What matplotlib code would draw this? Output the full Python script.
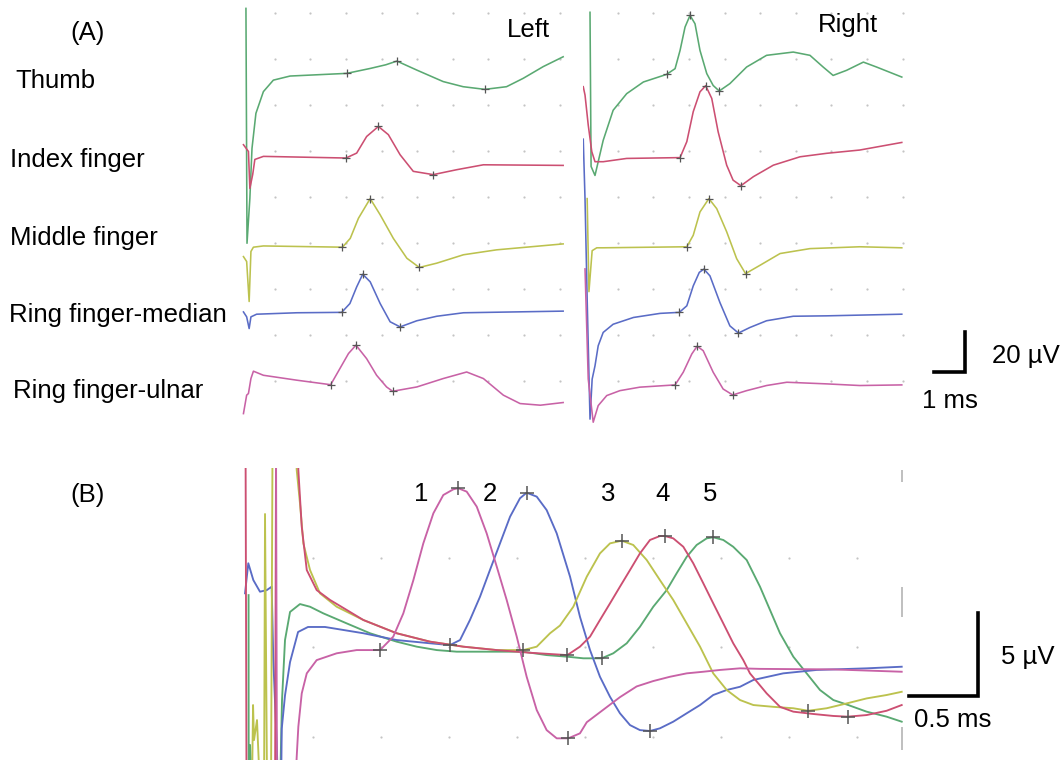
import numpy as np
import matplotlib
matplotlib.use("Agg")
import matplotlib.pyplot as plt

plt.rcParams['font.family'] = ['Liberation Sans', 'DejaVu Sans']

# colours of the recording system
GREEN = '#5aa972'
RED = '#cc4f72'
YELLOW = '#bcc24e'
BLUE = '#5a6cc6'
MAGENTA = '#c862a6'
MARK = '#555555'

# ---- panel A: sensory potentials, time in ms, amplitude in uV ----
fingers = ['Thumb', 'Index finger', 'Middle finger', 'Ring finger-median', 'Ring finger-ulnar']
finger_colors = [GREEN, RED, YELLOW, BLUE, MAGENTA]
baseline_uv = [174, 133, 89.5, 57.5, 22]   # vertical offset of each trace

# left hand
l_thumb_t = [-0.03, 0.0, 0.08, 0.14, 0.25, 0.46, 0.74, 1.21, 2.80, 3.46, 3.90, 4.21, 4.77, 5.51, 6.07, 6.68, 7.29, 7.76, 8.32, 8.88]
l_thumb_uv = [31.7, -82.9, -61.0, -36.6, -19.5, -8.9, -3.3, -1.3, 0.0, 2.4, 4.2, 6.0, 1.6, -4.0, -6.5, -7.8, -6.5, -2.4, 3.3, 8.1]
l_index_t = [-0.10, 0.04, 0.08, 0.16, 0.22, 0.46, 2.78, 3.08, 3.36, 3.69, 3.97, 4.30, 4.67, 5.23, 5.89, 6.64, 8.88]
l_index_uv = [6.2, 2.9, -15.1, -8.3, -1.0, 0.5, -0.3, 2.1, 10.2, 15.1, 11.1, 1.3, -6.8, -8.4, -6.0, -3.6, -3.9]
l_middle_t = [-0.10, -0.01, 0.06, 0.11, 0.18, 0.46, 2.68, 2.90, 3.13, 3.46, 3.74, 4.11, 4.49, 4.84, 5.33, 6.08, 7.01, 8.88]
l_middle_uv = [-4.9, -7.3, -26.8, -2.4, -0.3, 0.3, -0.3, 4.0, 13.8, 23.4, 15.5, 4.0, -5.7, -10.2, -8.1, -4.0, -1.6, 1.3]
l_rmed_t = [-0.10, -0.01, 0.06, 0.11, 0.27, 1.40, 2.66, 2.89, 3.08, 3.25, 3.46, 3.74, 4.02, 4.30, 4.77, 5.33, 6.08, 8.88]
l_rmed_uv = [0.1, -2.3, -8.0, -2.3, -1.0, -0.3, -0.1, 4.2, 12.3, 18.5, 14.8, 4.2, -4.7, -7.2, -4.2, -2.0, -0.3, 0.5]
l_rul_t = [-0.10, -0.01, 0.04, 0.11, 0.18, 0.46, 1.40, 2.35, 2.61, 2.85, 3.06, 3.36, 3.64, 3.92, 4.09, 4.77, 5.51, 6.17, 6.64, 7.20, 7.67, 8.24, 8.88]
l_rul_uv = [-14.0, -5.0, -4.2, 3.1, 6.7, 4.7, 2.3, 0.1, 8.0, 15.3, 19.4, 12.8, 4.7, -1.0, -3.1, -1.0, 3.1, 6.3, 3.1, -5.0, -9.1, -9.9, -8.6]

# onset / peak / trough cursors (left)
l_marks_t = [[2.80, 4.21, 6.68], [2.78, 3.69, 5.23], [2.68, 3.46, 4.84], [2.66, 3.25, 4.30], [2.35, 3.06, 4.09]]
l_marks_uv = [[0.0, 6.0, -7.8], [-0.3, 15.1, -8.4], [-0.3, 23.4, -10.2], [-0.1, 18.5, -7.2], [0.1, 19.4, -3.1]]

# right hand
r_thumb_t = [0.0, 0.03, 0.14, 0.37, 0.65, 1.03, 1.50, 2.15, 2.39, 2.53, 2.67, 2.81, 2.95, 3.09, 3.28, 3.46, 3.63, 3.93, 4.40, 4.96, 5.71, 6.18, 6.55, 6.83, 7.21, 7.68, 8.05, 8.76]
r_thumb_uv = [29.8, -45.4, -49.8, -32.7, -18.0, -9.9, -4.2, -0.5, 2.3, 11.2, 22.6, 28.3, 24.2, 11.2, -0.1, -5.9, -8.6, -5.0, 3.1, 8.8, 10.4, 8.8, 3.1, -1.0, 1.5, 5.5, 3.1, -1.8]
r_index_t = [-0.19, -0.14, -0.05, 0.05, 0.14, 0.37, 1.03, 2.53, 2.72, 2.90, 3.09, 3.25, 3.42, 3.60, 3.84, 4.02, 4.24, 4.59, 5.15, 5.90, 6.65, 7.58, 8.76]
r_index_uv = [34.5, 30.4, 15.8, 2.8, -2.1, -2.1, -0.5, -0.1, 7.7, 22.3, 32.0, 35.0, 28.8, 12.5, -3.8, -11.1, -13.8, -9.4, -3.8, 0.3, 2.0, 3.6, 7.3]
r_middle_t = [-0.08, -0.03, 0.06, 0.19, 0.37, 2.72, 2.90, 3.09, 3.34, 3.56, 3.84, 4.12, 4.37, 4.78, 5.34, 6.18, 7.58, 8.76]
r_middle_uv = [23.4, -22.0, -2.0, -0.6, -0.6, -0.1, 5.5, 16.9, 23.4, 18.5, 7.2, -5.9, -13.2, -9.1, -3.4, -1.0, -0.1, -0.6]
r_rmed_t = [-0.19, -0.14, -0.08, 0.0, 0.06, 0.14, 0.23, 0.37, 0.65, 1.22, 1.97, 2.51, 2.72, 2.90, 3.07, 3.20, 3.37, 3.65, 3.93, 4.17, 4.49, 4.96, 5.71, 6.65, 8.76]
r_rmed_uv = [84.4, 55.1, 6.3, -52.2, -32.7, -26.2, -16.4, -9.9, -5.9, -2.6, -0.6, -0.1, 3.1, 12.8, 19.4, 21.0, 17.7, 4.7, -6.7, -10.2, -7.5, -4.2, -2.0, -1.8, -1.0]
r_rul_t = [-0.14, -0.05, 0.09, 0.23, 0.47, 0.84, 1.40, 2.39, 2.62, 2.86, 3.01, 3.18, 3.46, 3.74, 4.01, 4.40, 4.96, 5.53, 6.65, 7.58, 8.76]
r_rul_uv = [56.6, 2.9, -18.2, -10.1, -5.2, -2.8, -1.1, 0.0, 6.2, 15.1, 18.9, 16.7, 6.2, -2.0, -4.9, -2.8, -0.3, 1.3, 0.5, -0.3, 0.0]

r_marks_t = [[2.15, 2.81, 3.63], [2.53, 3.25, 4.24], [2.72, 3.34, 4.37], [2.51, 3.20, 4.17], [2.39, 3.01, 4.01]]
r_marks_uv = [[-0.5, 28.3, -8.6], [-0.1, 35.0, -13.8], [-0.1, 23.4, -13.2], [-0.1, 21.0, -10.2], [0.0, 18.9, -4.9]]

# ---- panel B: superimposed traces 1-5, time in ms, amplitude in uV ----
b1_t = [0.228, 0.235, 0.368, 0.380, 0.392, 0.417, 0.454, 0.527, 0.674, 0.821,
        0.993, 1.090, 1.164, 1.238, 1.311, 1.385, 1.458, 1.532, 1.568, 1.630,
        1.704, 1.777, 1.851, 1.924, 1.998, 2.071, 2.145, 2.218, 2.292, 2.377,
        2.463, 2.513, 2.635, 2.757, 2.880, 3.002, 3.125, 3.248, 3.370, 3.493,
        3.640, 3.787, 4.326, 4.829]
b1_uv = [11, -8, -8, -6.13, -4.45, -2.59, -1.47, -0.73, -0.35, -0.17,
         -0.17, 0.58, 1.88, 3.74, 5.79, 7.47, 8.49, 8.81, 8.87, 8.68,
         7.84, 6.35, 4.49, 2.63, 0.58, -1.66, -3.52, -4.64, -5.10, -5.10,
         -4.82, -4.2, -3.5, -2.8, -2.2, -1.9, -1.66, -1.47, -1.38, -1.28,
         -1.19, -1.22, -1.25, -1.38]
b2_t = [0.000, 0.024, 0.061, 0.110, 0.160, 0.196, 0.208, 0.233, 0.243, 0.265,
        0.270, 0.294, 0.331, 0.390, 0.463, 0.588, 0.870, 1.115, 1.360, 1.507,
        1.581, 1.654, 1.728, 1.801, 1.875, 1.949, 2.022, 2.071, 2.145, 2.218,
        2.292, 2.390, 2.463, 2.537, 2.610, 2.684, 2.757, 2.831, 2.904, 2.978,
        3.051, 3.149, 3.248, 3.346, 3.443, 3.542, 3.640, 3.738, 3.958, 4.204,
        4.571, 4.829]
b2_uv = [3.00, 4.68, 3.74, 3.09, 3.18, 3.37, -0.73, -5.38, -8, -8,
         -4.56, -2.70, -0.84, 0.84, 1.12, 1.12, 0.77, 0.39, 0.21, 0.11,
         0.39, 1.51, 2.81, 4.30, 5.79, 7.28, 8.31, 8.62, 8.40, 7.65,
         6.35, 3.93, 1.69, -0.17, -1.66, -2.78, -3.70, -4.36, -4.64, -4.69,
         -4.54, -4.17, -3.70, -3.24, -2.68, -2.40, -2.22, -1.84, -1.47, -1.28,
         -1.19, -1.10]
b3_t = [0.051, 0.059, 0.066, 0.088, 0.110, 0.140, 0.147, 0.162, 0.191, 0.202,
        0.375, 0.380, 0.404, 0.429, 0.478, 0.551, 0.674, 0.870, 1.115, 1.360,
        1.605, 1.851, 2.046, 2.145, 2.243, 2.316, 2.414, 2.513, 2.610, 2.684,
        2.770, 2.855, 2.954, 3.051, 3.149, 3.248, 3.346, 3.443, 3.542, 3.640,
        3.738, 3.885, 4.032, 4.142, 4.277, 4.424, 4.571, 4.718, 4.829]
b3_uv = [-8, -3.24, -5.20, -4.08, -8, -8, 7.43, -8, -8, 11,
         11, 9.89, 8.03, 5.79, 4.30, 3.00, 2.25, 1.51, 0.77, 0.30,
         0.02, -0.17, -0.17, 0.02, 0.77, 1.2, 2.25, 3.93, 5.23, 5.79,
         5.94, 5.70, 4.86, 3.74, 2.63, 1.32, 0.02, -1.47, -2.40, -2.96,
         -3.24, -3.34, -3.42, -3.56, -3.42, -3.15, -2.87, -2.68, -2.50]
b4_t = [0.004, 0.011, 0.221, 0.228, 0.390, 0.392, 0.417, 0.454, 0.527, 0.625,
        0.748, 0.870, 1.115, 1.360, 1.605, 1.851, 2.096, 2.370, 2.463, 2.537,
        2.610, 2.684, 2.757, 2.831, 2.904, 2.978, 3.051, 3.088, 3.149, 3.223,
        3.296, 3.370, 3.443, 3.517, 3.590, 3.664, 3.713, 3.836, 3.934, 4.032,
        4.179, 4.326, 4.431, 4.571, 4.718, 4.829]
b4_uv = [11, -8, -8, 11, 11, 9.89, 6.72, 4.30, 3.18, 2.63,
         2.07, 1.51, 0.77, 0.30, 0.02, -0.17, -0.32, -0.45, 0.02, 0.58,
         1.51, 2.44, 3.37, 4.30, 5.23, 5.98, 6.20, 6.20, 6.07, 5.60,
         4.68, 3.56, 2.44, 1.32, 0.21, -0.73, -1.47, -2.59, -3.34, -3.61,
         -3.74, -3.85, -3.89, -3.80, -3.56, -3.24]
b5_t = [0.026, 0.027, 0.037, 0.051, 0.257, 0.272, 0.294, 0.331, 0.404, 0.478,
        0.576, 0.748, 0.919, 1.115, 1.263, 1.410, 1.557, 1.704, 1.851, 2.046,
        2.218, 2.370, 2.488, 2.623, 2.708, 2.807, 2.904, 3.002, 3.101, 3.174,
        3.248, 3.321, 3.395, 3.443, 3.517, 3.590, 3.689, 3.787, 3.934, 4.032,
        4.130, 4.228, 4.326, 4.436, 4.571, 4.718, 4.829]
b5_uv = [2.9, -8, -5.47, -8, -8, -2.96, 0.39, 1.96, 2.40, 2.25,
         1.88, 1.32, 0.77, 0.30, 0.02, -0.17, -0.26, -0.26, -0.26, -0.26,
         -0.45, -0.54, -0.63, -0.63, -0.35, 0.21, 1.13, 2.25, 3.18, 4.12,
         5.04, 5.70, 6.07, 6.13, 5.98, 5.60, 4.86, 3.37, 0.77, -0.54,
         -1.47, -2.40, -2.96, -3.24, -3.61, -3.89, -4.17]

b_marks_t = [0.993, 1.568, 2.377, 1.507, 2.071, 2.978, 2.046, 2.770, 4.142, 2.370, 3.088, 4.431, 2.623, 3.443]
b_marks_uv = [-0.17, 8.87, -5.10, 0.11, 8.62, -4.69, -0.17, 5.94, -3.56, -0.45, 6.20, -3.89, -0.63, 6.13]
b_labels = ['1', '2', '3', '4', '5']

# right border cursor of the sweep in panel B
b_edge_t = 4.83
b_edge_lo = [9.2, 1.68, -5.75]
b_edge_hi = [9.9, 3.35, -4.47]

W, H = 1061, 760
fig = plt.figure(figsize=(W / 100, H / 100), dpi=100)


def fx(px):
    return px / W


def fy(py):
    return 1 - py / H


def dots(ax, xs, ys):
    gx, gy = np.meshgrid(xs, ys)
    ax.plot(gx.ravel(), gy.ravel(), ls='none', marker='o', ms=1.6, color='#c4c4c4', mec='none', zorder=0)


# panel A axes
axL = fig.add_axes([fx(240), fy(430), fx(326), 430 / H])
axR = fig.add_axes([fx(583), fy(430), fx(322), 430 / H])
axL.set_xlim(-0.197, 8.96)
axR.set_xlim(-0.197, 8.85)
grid_rows_a = np.arange(23.9, 210, 22.44)
for ax in (axL, axR):
    ax.set_ylim(0, 209.8)
    ax.axis('off')
    dots(ax, 0.78 + np.arange(9), grid_rows_a)

left_traces = [(l_thumb_t, l_thumb_uv), (l_index_t, l_index_uv), (l_middle_t, l_middle_uv),
               (l_rmed_t, l_rmed_uv), (l_rul_t, l_rul_uv)]
right_traces = [(r_thumb_t, r_thumb_uv), (r_index_t, r_index_uv), (r_middle_t, r_middle_uv),
                (r_rmed_t, r_rmed_uv), (r_rul_t, r_rul_uv)]

for ax, traces, mt, mv in ((axL, left_traces, l_marks_t, l_marks_uv),
                           (axR, right_traces, r_marks_t, r_marks_uv)):
    for i in range(len(fingers)):
        t, v = traces[i]
        off = baseline_uv[i]
        ax.plot(t, np.array(v) + off, color=finger_colors[i], lw=1.15, zorder=2)
        ax.plot(mt[i], np.array(mv[i]) + off, ls='none', marker='+', ms=6, mew=0.9, color=MARK, zorder=3)

# panel B axes
axB = fig.add_axes([fx(240), 0, fx(670), 292 / H])
axB.set_xlim(-0.037, 4.89)
axB.set_ylim(-6.31, 10.0)
axB.axis('off')
dots(axB, 0.5 * np.arange(1, 10), [-5, 0, 5])
axB.vlines([b_edge_t] * 3, b_edge_lo, b_edge_hi, color='#b4b4b4', lw=1.2)
for t, v, c in ((b5_t, b5_uv, GREEN), (b2_t, b2_uv, BLUE), (b3_t, b3_uv, YELLOW),
                (b4_t, b4_uv, RED), (b1_t, b1_uv, MAGENTA)):
    axB.plot(t, v, color=c, lw=1.35, zorder=2)
axB.plot(b_marks_t, b_marks_uv, ls='none', marker='+', ms=10, mew=1.1, color=MARK, zorder=3)

# overlay in pixel units for labels and scale bars
ov = fig.add_axes([0, 0, 1, 1], facecolor='none')
ov.set_xlim(0, W)
ov.set_ylim(H, 0)
ov.axis('off')

fs = 18.5
ov.text(88, 33, '(A)', fontsize=fs, ha='center', va='center')
ov.text(88, 495, '(B)', fontsize=fs, ha='center', va='center')
label_x = [15, 10, 10, 9, 13]
label_base = [88, 167, 245, 322, 398]
for name, x, y in zip(fingers, label_x, label_base):
    ov.text(x, y, name, fontsize=fs, ha='left', va='baseline')
ov.text(507, 37, 'Left', fontsize=fs, ha='left', va='baseline')
ov.text(818, 32, 'Right', fontsize=fs, ha='left', va='baseline')

for lab, x in zip(b_labels, [421, 490, 608, 663, 710]):
    ov.text(x, 494, lab, fontsize=fs, ha='center', va='center')

# scale bars
ov.plot([934, 965, 965], [372, 372, 332], color='black', lw=2.6, solid_joinstyle='miter')
ov.text(992, 363, '20 µV', fontsize=fs, ha='left', va='baseline')
ov.text(922, 408, '1 ms', fontsize=fs, ha='left', va='baseline')
ov.plot([909, 978, 978], [696, 696, 613], color='black', lw=2.6, solid_joinstyle='miter')
ov.text(1001, 664, '5 µV', fontsize=fs, ha='left', va='baseline')
ov.text(914, 727, '0.5 ms', fontsize=fs, ha='left', va='baseline')

fig.savefig('out.png', dpi=100)
